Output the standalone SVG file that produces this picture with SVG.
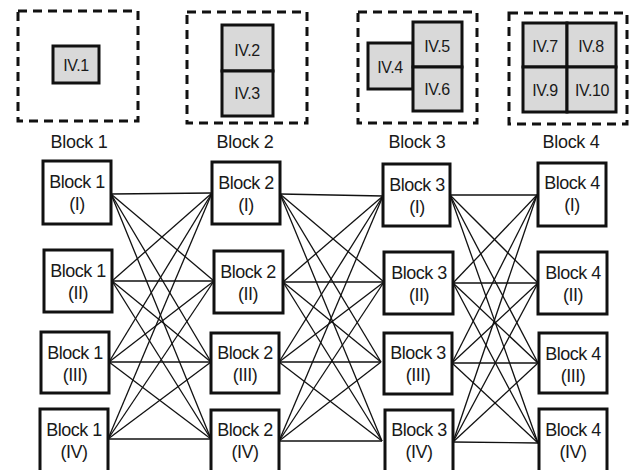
<svg xmlns="http://www.w3.org/2000/svg" width="629" height="470" viewBox="0 0 629 470">
<style>
text{font-family:"Liberation Sans",Arial,sans-serif;fill:#1a1a1a;text-anchor:middle}
.dash{fill:none;stroke:#111;stroke-width:3;stroke-dasharray:9 6}
.iv{fill:#d9d9d9;stroke:#111;stroke-width:3}
.iv-t{font-size:16px;letter-spacing:-0.4px}
.lbl{font-size:18px;letter-spacing:-0.3px}
.node{fill:#fff;stroke:#111;stroke-width:3}
.nt{font-size:18px;letter-spacing:-0.5px}
#edges line{stroke:#111;stroke-width:1.3}
</style>
<rect width="629" height="470" fill="#fff"/>
<g id="top-block1">
<rect class="dash" x="18" y="11" width="120" height="110"/>
<rect class="iv" x="53" y="46" width="46" height="37"/>
<text class="iv-t" x="76" y="71">IV.1</text>
<text class="lbl" x="79" y="148">Block 1</text>
</g>
<g id="top-block2">
<rect class="dash" x="187" y="12" width="120" height="111"/>
<rect class="iv" x="222" y="25" width="51" height="46"/>
<rect class="iv" x="222" y="71" width="51" height="45"/>
<text class="iv-t" x="247" y="56">IV.2</text>
<text class="iv-t" x="247" y="99">IV.3</text>
<text class="lbl" x="245" y="148">Block 2</text>
</g>
<g id="top-block3">
<rect class="dash" x="358" y="12" width="119" height="111"/>
<rect class="iv" x="368" y="43" width="45" height="46"/>
<rect class="iv" x="413" y="22" width="49" height="45"/>
<rect class="iv" x="413" y="67" width="49" height="44"/>
<text class="iv-t" x="390" y="73">IV.4</text>
<text class="iv-t" x="437" y="52">IV.5</text>
<text class="iv-t" x="437" y="95">IV.6</text>
<text class="lbl" x="417" y="148">Block 3</text>
</g>
<g id="top-block4">
<rect class="dash" x="509" y="13" width="118" height="111"/>
<rect class="iv" x="523" y="23" width="44" height="44"/>
<rect class="iv" x="567" y="23" width="49" height="44"/>
<rect class="iv" x="523" y="67" width="44" height="45"/>
<rect class="iv" x="567" y="67" width="49" height="45"/>
<text class="iv-t" x="545" y="52">IV.7</text>
<text class="iv-t" x="591" y="52">IV.8</text>
<text class="iv-t" x="545" y="96">IV.9</text>
<text class="iv-t" x="592" y="96">IV.10</text>
<text class="lbl" x="571" y="148">Block 4</text>
</g>
<g id="edges">
<line x1="111" y1="194" x2="212" y2="193"/><line x1="111" y1="194" x2="214" y2="281"/><line x1="111" y1="194" x2="211" y2="362"/><line x1="111" y1="194" x2="211" y2="439"/>
<line x1="112" y1="281" x2="212" y2="193"/><line x1="112" y1="281" x2="214" y2="281"/><line x1="112" y1="281" x2="211" y2="362"/><line x1="112" y1="281" x2="211" y2="439"/>
<line x1="109" y1="362" x2="212" y2="193"/><line x1="109" y1="362" x2="214" y2="281"/><line x1="109" y1="362" x2="211" y2="362"/><line x1="109" y1="362" x2="211" y2="439"/>
<line x1="108" y1="439" x2="212" y2="193"/><line x1="108" y1="439" x2="214" y2="281"/><line x1="108" y1="439" x2="211" y2="362"/><line x1="108" y1="439" x2="211" y2="439"/>
<line x1="280" y1="194" x2="383" y2="196"/><line x1="280" y1="194" x2="384" y2="282"/><line x1="280" y1="194" x2="381" y2="362"/><line x1="280" y1="194" x2="382" y2="441"/>
<line x1="283" y1="282" x2="383" y2="196"/><line x1="283" y1="282" x2="384" y2="282"/><line x1="283" y1="282" x2="381" y2="362"/><line x1="283" y1="282" x2="382" y2="441"/>
<line x1="279" y1="362" x2="383" y2="196"/><line x1="279" y1="362" x2="384" y2="282"/><line x1="279" y1="362" x2="381" y2="362"/><line x1="279" y1="362" x2="382" y2="441"/>
<line x1="279" y1="441" x2="383" y2="196"/><line x1="279" y1="441" x2="384" y2="282"/><line x1="279" y1="441" x2="381" y2="362"/><line x1="279" y1="441" x2="382" y2="441"/>
<line x1="450" y1="195" x2="537" y2="195"/><line x1="450" y1="195" x2="538" y2="283"/><line x1="450" y1="195" x2="538" y2="363"/><line x1="450" y1="195" x2="538" y2="443"/>
<line x1="453" y1="283" x2="537" y2="195"/><line x1="453" y1="283" x2="538" y2="283"/><line x1="453" y1="283" x2="538" y2="363"/><line x1="453" y1="283" x2="538" y2="443"/>
<line x1="452" y1="363" x2="537" y2="195"/><line x1="452" y1="363" x2="538" y2="283"/><line x1="452" y1="363" x2="538" y2="363"/><line x1="452" y1="363" x2="538" y2="443"/>
<line x1="453" y1="442" x2="537" y2="195"/><line x1="453" y1="442" x2="538" y2="283"/><line x1="453" y1="442" x2="538" y2="363"/><line x1="453" y1="442" x2="538" y2="443"/>
</g>
<g id="b1-I"><rect class="node" x="43" y="161" width="68" height="63"/><text class="nt" x="77" y="188">Block 1</text><text class="nt" x="77" y="210">(I)</text></g>
<g id="b1-II"><rect class="node" x="44" y="250" width="68" height="62"/><text class="nt" x="78" y="277">Block 1</text><text class="nt" x="78" y="299">(II)</text></g>
<g id="b1-III"><rect class="node" x="41" y="332" width="68" height="61"/><text class="nt" x="75" y="359">Block 1</text><text class="nt" x="75" y="381">(III)</text></g>
<g id="b1-IV"><rect class="node" x="40" y="409" width="68" height="70"/><text class="nt" x="74" y="436">Block 1</text><text class="nt" x="74" y="458">(IV)</text></g>
<g id="b2-I"><rect class="node" x="212" y="162" width="68" height="62"/><text class="nt" x="246" y="189">Block 2</text><text class="nt" x="246" y="211">(I)</text></g>
<g id="b2-II"><rect class="node" x="214" y="251" width="69" height="62"/><text class="nt" x="248" y="278">Block 2</text><text class="nt" x="248" y="300">(II)</text></g>
<g id="b2-III"><rect class="node" x="211" y="333" width="68" height="60"/><text class="nt" x="245" y="359">Block 2</text><text class="nt" x="245" y="381">(III)</text></g>
<g id="b2-IV"><rect class="node" x="211" y="410" width="68" height="70"/><text class="nt" x="245" y="436">Block 2</text><text class="nt" x="245" y="458">(IV)</text></g>
<g id="b3-I"><rect class="node" x="383" y="164" width="67" height="62"/><text class="nt" x="417" y="191">Block 3</text><text class="nt" x="417" y="213">(I)</text></g>
<g id="b3-II"><rect class="node" x="384" y="252" width="69" height="62"/><text class="nt" x="419" y="279">Block 3</text><text class="nt" x="419" y="301">(II)</text></g>
<g id="b3-III"><rect class="node" x="384" y="333" width="68" height="61"/><text class="nt" x="418" y="359">Block 3</text><text class="nt" x="418" y="381">(III)</text></g>
<g id="b3-IV"><rect class="node" x="385" y="410" width="68" height="70"/><text class="nt" x="419" y="436">Block 3</text><text class="nt" x="419" y="458">(IV)</text></g>
<g id="b4-I"><rect class="node" x="538" y="163" width="68" height="63"/><text class="nt" x="572" y="189">Block 4</text><text class="nt" x="572" y="211">(I)</text></g>
<g id="b4-II"><rect class="node" x="538" y="252" width="69" height="62"/><text class="nt" x="573" y="279">Block 4</text><text class="nt" x="573" y="301">(II)</text></g>
<g id="b4-III"><rect class="node" x="539" y="333" width="68" height="60"/><text class="nt" x="573" y="360">Block 4</text><text class="nt" x="573" y="382">(III)</text></g>
<g id="b4-IV"><rect class="node" x="539" y="409" width="68" height="70"/><text class="nt" x="573" y="436">Block 4</text><text class="nt" x="573" y="458">(IV)</text></g>
</svg>
